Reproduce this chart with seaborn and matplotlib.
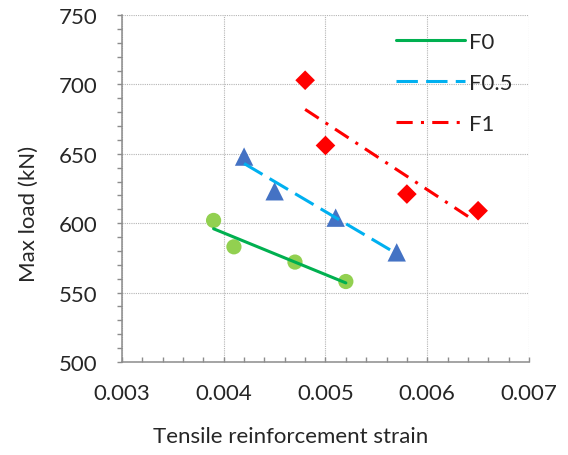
import matplotlib
matplotlib.use("Agg")
import matplotlib.pyplot as plt
import seaborn as sns
import pandas as pd
from matplotlib.ticker import MultipleLocator

# ---- data ----
f0_strain = [0.0039, 0.0041, 0.0047, 0.0052]
f0_load = [602, 583, 572, 558]
f05_strain = [0.0042, 0.0045, 0.0051, 0.0057]
f05_load = [648, 623, 604, 579]
f1_strain = [0.0048, 0.0050, 0.0058, 0.0065]
f1_load = [703, 656, 621, 609]

# trend lines
f0_line_x = [0.0039, 0.0052]
f0_line_y = [596, 557]
f05_line_x = [0.0042, 0.0057]
f05_line_y = [643, 578]
f1_line_x = [0.0048, 0.00644]
f1_line_y = [682, 603]

labels = ["F0", "F0.5", "F1"]
x_ticks = [0.003, 0.004, 0.005, 0.006, 0.007]
y_ticks = [500, 550, 600, 650, 700, 750]

sns.set_style("white")
plt.rcParams["font.family"] = ["Lato", "DejaVu Sans"]

fig = plt.figure(figsize=(5.68, 4.56), dpi=100)
ax = fig.add_axes([0.2148, 0.2039, 0.7165, 0.761])

# scatter points
sns.scatterplot(x=f0_strain, y=f0_load, ax=ax, marker="o", s=120,
                color="#92D050", edgecolor="none", legend=False, zorder=3)
sns.scatterplot(x=f05_strain, y=f05_load, ax=ax, marker="^", s=175,
                color="#4472C4", edgecolor="none", legend=False, zorder=3)
sns.scatterplot(x=f1_strain, y=f1_load, ax=ax, marker="D", s=100,
                color="#FF0000", edgecolor="none", legend=False, zorder=3)

# lines
sns.lineplot(x=f0_line_x, y=f0_line_y, ax=ax, color="#00B050", lw=2.2,
             label=labels[0], zorder=4)
sns.lineplot(x=f05_line_x, y=f05_line_y, ax=ax, color="#00B0F0", lw=2.2,
             linestyle=(0, (7, 2.7)), label=labels[1], zorder=4)
sns.lineplot(x=f1_line_x, y=f1_line_y, ax=ax, color="#FF0000", lw=2.2,
             linestyle=(0, (5.3, 2.7, 1, 2.7)), label=labels[2], zorder=4)

ax.set_xlim(x_ticks[0], x_ticks[-1])
ax.set_ylim(y_ticks[0], y_ticks[-1])
ax.set_xticks(x_ticks)
ax.set_yticks(y_ticks)
ax.set_xticklabels([f"{v:.3f}" for v in x_ticks])
ax.set_yticklabels([str(v) for v in y_ticks])
ax.xaxis.set_minor_locator(MultipleLocator(0.0002))
ax.yaxis.set_minor_locator(MultipleLocator(10))

ax.grid(True, which="major", color="#b5b5b5", linestyle=(0, (1, 1)), lw=0.8)
ax.set_axisbelow(True)

for s in ["top", "right"]:
    ax.spines[s].set_visible(False)
for s in ["left", "bottom"]:
    ax.spines[s].set_color("#8c8c8c")
    ax.spines[s].set_linewidth(1.1)

ax.tick_params(axis="y", which="both", direction="out", length=3.8,
               width=1, color="#8c8c8c", labelsize=16, pad=14)
ax.tick_params(axis="x", which="both", direction="in", length=3.8,
               width=1, color="#8c8c8c", labelsize=16, pad=15)
ax.tick_params(axis="both", which="both", left=True, bottom=True)

ax.set_xlabel("Tensile reinforcement strain", fontsize=16)
ax.set_ylabel("Max load (kN)", fontsize=16)
ax.xaxis.set_label_coords(0.415, -0.185)
ax.yaxis.set_label_coords(-0.205, 0.43)

leg = ax.legend(loc="upper left", bbox_to_anchor=(0.651, 0.978), frameon=False,
                fontsize=16, handlelength=3.1, handletextpad=0.2,
                labelspacing=0.95, borderaxespad=0)

fig.savefig("out.png", dpi=100)
